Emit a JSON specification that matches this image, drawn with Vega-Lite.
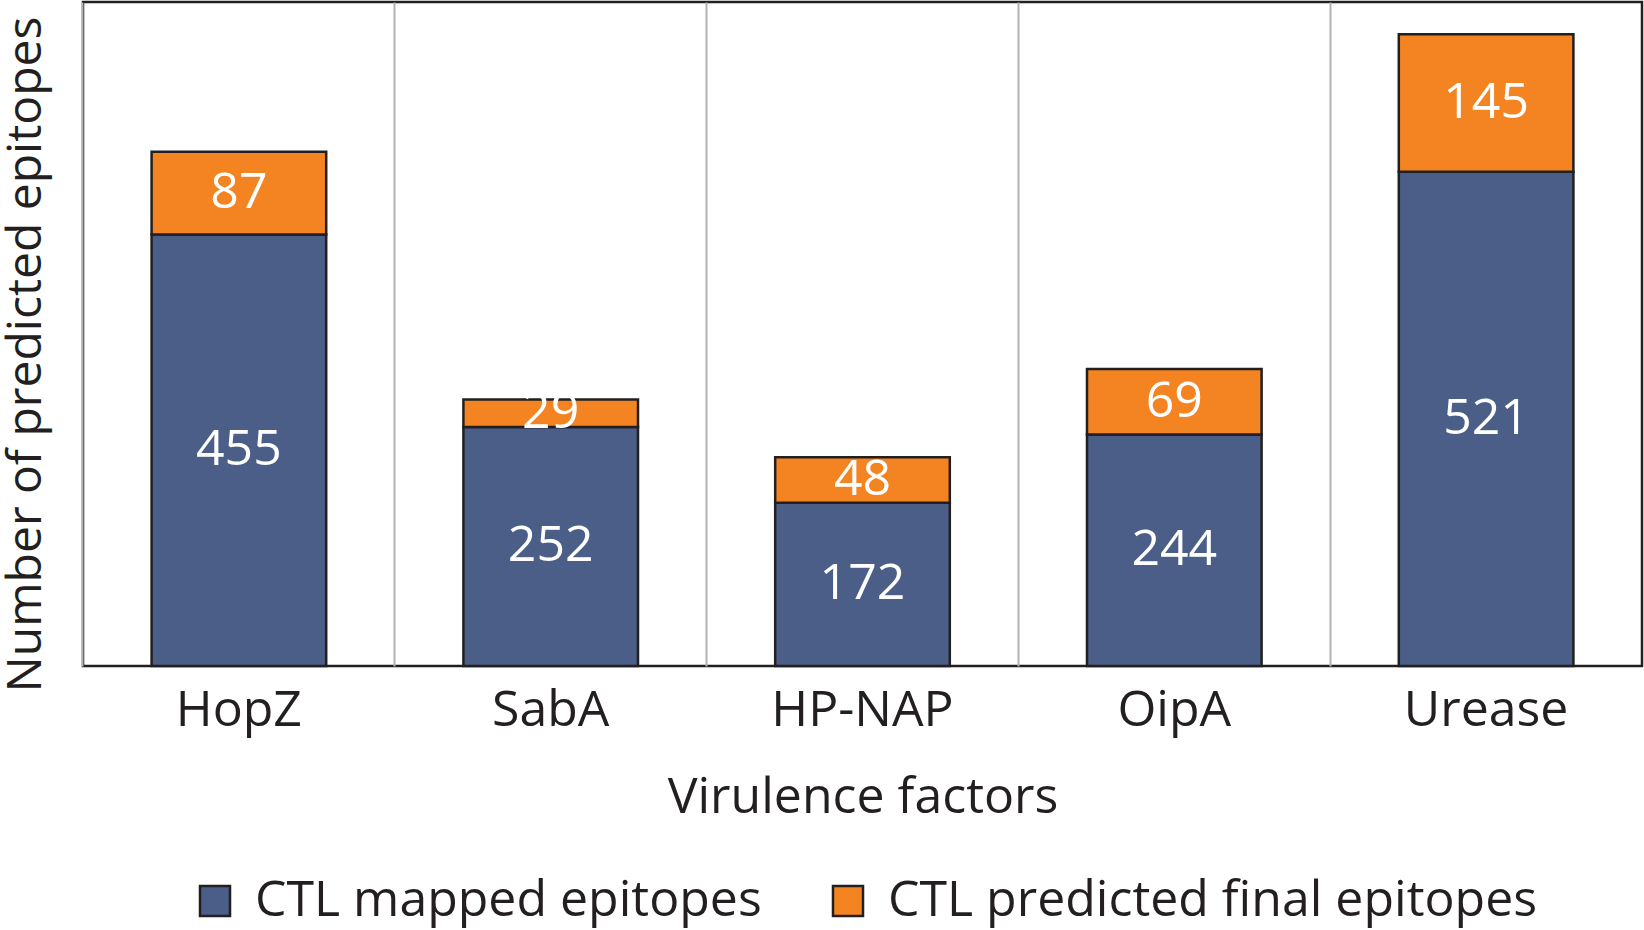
{
  "$schema": "https://vega.github.io/schema/vega-lite/v6.json",
  "autosize": "none",
  "width": 1559,
  "height": 664,
  "padding": {"left": 83, "top": 2, "right": 2, "bottom": 264},
  "background": "white",
  "config": {
    "font": "Open Sans",
    "view": {"stroke": "#231f20", "strokeWidth": 2.5},
    "axis": {"labelFont": "Open Sans", "titleFont": "Open Sans", "titleFontWeight": "normal", "labelColor": "#231f20", "titleColor": "#231f20"}
  },
  "data": {
    "values": [
      {"factor": "HopZ", "type": "CTL mapped epitopes", "k": 1, "v": 455},
      {"factor": "HopZ", "type": "CTL predicted final epitopes", "k": 2, "v": 87},
      {"factor": "SabA", "type": "CTL mapped epitopes", "k": 1, "v": 252},
      {"factor": "SabA", "type": "CTL predicted final epitopes", "k": 2, "v": 29},
      {"factor": "HP-NAP", "type": "CTL mapped epitopes", "k": 1, "v": 172},
      {"factor": "HP-NAP", "type": "CTL predicted final epitopes", "k": 2, "v": 48},
      {"factor": "OipA", "type": "CTL mapped epitopes", "k": 1, "v": 244},
      {"factor": "OipA", "type": "CTL predicted final epitopes", "k": 2, "v": 69},
      {"factor": "Urease", "type": "CTL mapped epitopes", "k": 1, "v": 521},
      {"factor": "Urease", "type": "CTL predicted final epitopes", "k": 2, "v": 145}
    ]
  },
  "encoding": {
    "x": {
      "field": "factor",
      "type": "nominal",
      "sort": ["HopZ", "SabA", "HP-NAP", "OipA", "Urease"],
      "scale": {"paddingInner": 0.44, "paddingOuter": 0.22},
      "axis": {
        "title": "Virulence factors",
        "labelAngle": 0,
        "labelFontSize": 50,
        "labelBaseline": "alphabetic",
        "labelPadding": 59,
        "labelLimit": 500,
        "ticks": false,
        "tickSize": 0,
        "domain": false,
        "grid": true,
        "bandPosition": -0.393,
        "gridColor": "#b3b3b3",
        "gridWidth": 2,
        "titleFontSize": 50,
        "titleBaseline": "alphabetic",
        "titleY": 146
      }
    },
    "y": {
      "field": "v",
      "type": "quantitative",
      "stack": "zero",
      "scale": {"domain": [0, 700], "nice": false},
      "axis": {
        "title": "Number of predicted epitopes",
        "labels": false,
        "ticks": false,
        "domain": false,
        "grid": false,
        "titleFontSize": 48,
        "titleBaseline": "alphabetic",
        "titleX": -43,
        "titleY": 352
      }
    },
    "order": {"field": "k", "type": "quantitative"}
  },
  "layer": [
    {
      "mark": {"type": "bar", "stroke": "#231f20", "strokeWidth": 2.5},
      "encoding": {
        "color": {
          "field": "type",
          "type": "nominal",
          "scale": {"domain": ["CTL mapped epitopes", "CTL predicted final epitopes"], "range": ["#4a5e88", "#f38421"]},
          "legend": {
            "title": null,
            "orient": "none",
            "direction": "horizontal",
            "legendX": 107,
            "legendY": 874,
            "symbolType": "square",
            "symbolSize": 900,
            "symbolStrokeColor": "#231f20",
            "symbolStrokeWidth": 2.5,
            "symbolOpacity": 1,
            "labelFont": "Open Sans",
            "labelFontSize": 50,
            "labelColor": "#231f20",
            "labelOffset": 15,
            "labelLimit": 1000,
            "columnPadding": 61,
            "padding": 0
          }
        }
      }
    },
    {
      "mark": {"type": "text", "color": "white", "fontSize": 50, "font": "Open Sans", "baseline": "middle", "align": "center"},
      "encoding": {
        "y": {"field": "v", "type": "quantitative", "stack": "zero", "bandPosition": 0.5},
        "text": {"field": "v", "type": "quantitative"}
      }
    }
  ]
}
